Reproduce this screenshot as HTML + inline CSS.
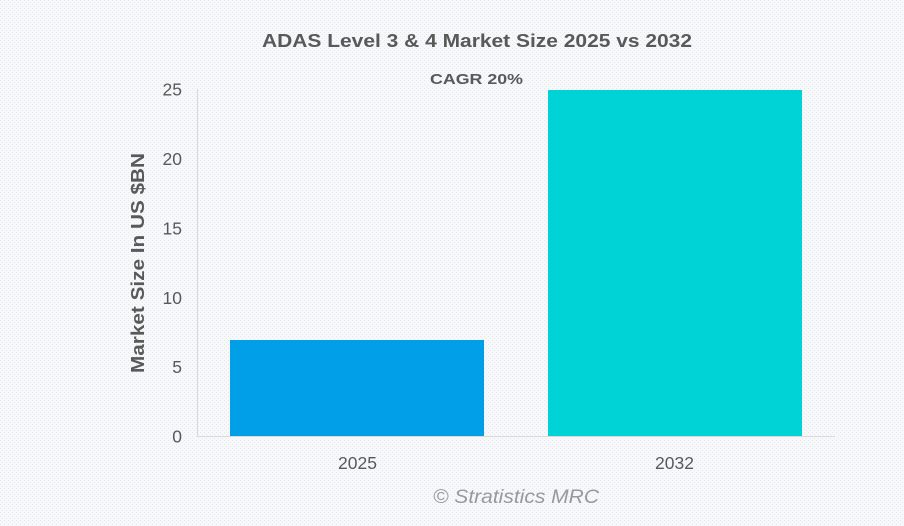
<!DOCTYPE html>
<html><head><meta charset="utf-8"><style>
html,body{margin:0;padding:0;}
body{width:904px;height:526px;overflow:hidden;background:#f6f7f9;}
svg{display:block;}
text{font-family:"Liberation Sans",Arial,sans-serif;}
</style></head><body>
<svg width="904" height="526" viewBox="0 0 904 526" xmlns="http://www.w3.org/2000/svg">
<defs>
<pattern id="dots" width="4" height="4" patternUnits="userSpaceOnUse">
<rect width="4" height="4" fill="#f7f8fa"/>
<rect x="0" y="0" width="1" height="1" fill="#e4e6e9"/>
<rect x="2" y="2" width="1" height="1" fill="#e8e9ec"/>
</pattern>
</defs>
<rect width="904" height="526" fill="url(#dots)"/>
<text x="477" y="47" text-anchor="middle" font-size="18.7" font-weight="bold" fill="#595959" textLength="430" lengthAdjust="spacingAndGlyphs">ADAS Level 3 &amp; 4 Market Size 2025 vs 2032</text>
<text x="476.5" y="84" text-anchor="middle" font-size="15" font-weight="bold" fill="#595959" textLength="93" lengthAdjust="spacingAndGlyphs">CAGR 20%</text>
<text transform="translate(144,263) rotate(-90)" text-anchor="middle" font-size="18.7" font-weight="bold" fill="#595959" textLength="220" lengthAdjust="spacingAndGlyphs">Market Size In US $BN</text>
<g font-size="17.5" fill="#595959" text-anchor="end">
<text x="182" y="442.5">0</text>
<text x="182" y="373">5</text>
<text x="182" y="304">10</text>
<text x="182" y="234.5">15</text>
<text x="182" y="165">20</text>
<text x="182" y="95.5">25</text>
</g>
<line x1="197.5" y1="89" x2="197.5" y2="437" stroke="#d9d9d9" stroke-width="1"/>
<rect x="230" y="340" width="254" height="96.5" fill="#009fe8"/>
<rect x="548" y="90" width="254" height="346.5" fill="#00d3d6"/>
<line x1="197" y1="436.5" x2="835" y2="436.5" stroke="#d9d9d9" stroke-width="1"/>
<g font-size="17.5" fill="#595959" text-anchor="middle">
<text x="357.5" y="469">2025</text>
<text x="674.5" y="469">2032</text>
</g>
<text x="516" y="503" text-anchor="middle" font-size="19.5" font-style="italic" fill="#999999" textLength="166" lengthAdjust="spacingAndGlyphs">© Stratistics MRC</text>
</svg>
</body></html>
